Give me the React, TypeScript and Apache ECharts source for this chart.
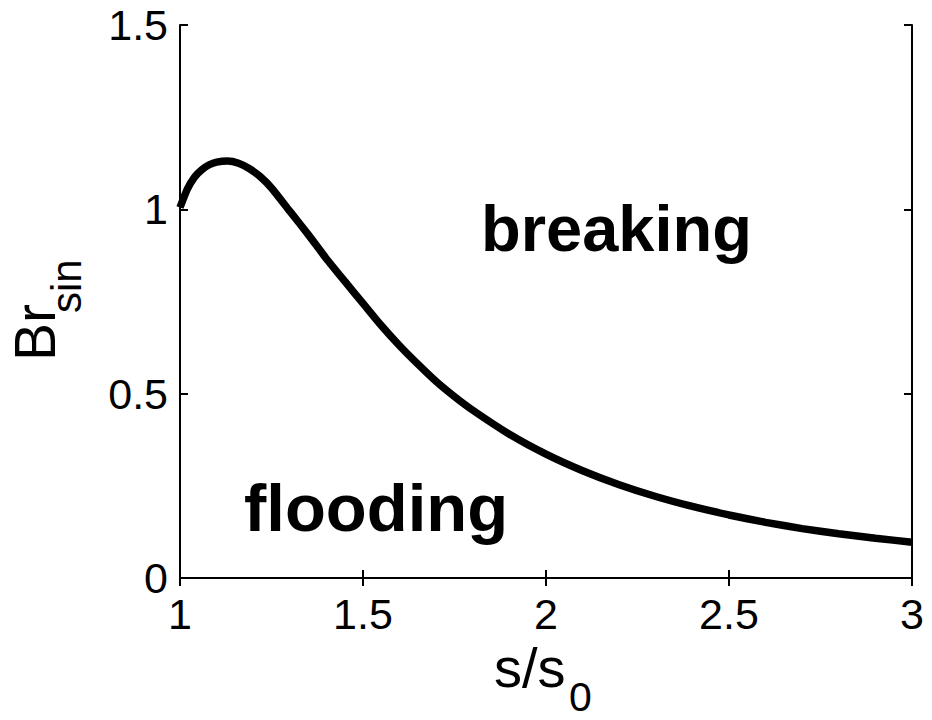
import React, { useEffect, useRef } from "react";
import * as echarts from "echarts";

const sRatio = [1.0, 1.02, 1.04, 1.06, 1.08, 1.1, 1.13, 1.16, 1.19, 1.22, 1.25, 1.3, 1.35, 1.4, 1.45, 1.5, 1.55, 1.6, 1.65, 1.7, 1.75, 1.8, 1.9, 2.0, 2.1, 2.2, 2.3, 2.4, 2.5, 2.6, 2.7, 2.8, 2.9, 3.0];
const brSin = [1.005, 1.055, 1.088, 1.108, 1.121, 1.128, 1.131, 1.125, 1.11, 1.088, 1.058, 0.995, 0.932, 0.866, 0.805, 0.745, 0.685, 0.63, 0.58, 0.533, 0.492, 0.455, 0.39, 0.336, 0.291, 0.253, 0.221, 0.194, 0.171, 0.151, 0.134, 0.12, 0.108, 0.097];

const xMin = 1, xMax = 3, xStep = 0.5;
const yMin = 0, yMax = 1.5, yStep = 0.5;

const xTitle = "s/s";
const xTitleSub = "0";
const yTitle = "Br";
const yTitleSub = "sin";
const regionAbove = "breaking";
const regionBelow = "flooding";

const FONT = "'Liberation Sans', Arial, sans-serif";

export default function App() {
  const ref = useRef<HTMLDivElement>(null);
  useEffect(() => {
    if (!ref.current) return;
    const chart = echarts.init(ref.current, undefined, { renderer: "svg" });
    const axisLine = { show: true, lineStyle: { color: "#000", width: 2 } };
    const tick = { show: true, inside: true, length: 8, lineStyle: { color: "#000", width: 2 } };
    const fmt = (v: number) => String(Math.round(v * 10) / 10);
    const txt = (text: string, size: number, weight = "normal") => ({
      text, font: `${weight} ${size}px ${FONT}`, fill: "#000", align: "left", verticalAlign: "middle",
    });
    chart.setOption({
      animation: false,
      backgroundColor: "#fff",
      grid: { left: 180, right: 20, top: 25, bottom: 142, containLabel: false, outerBoundsMode: "none" },
      xAxis: [
        {
          type: "value", min: xMin, max: xMax, interval: xStep, position: "bottom",
          axisLine, axisTick: tick, splitLine: { show: false },
          axisLabel: { color: "#000", fontSize: 43, fontFamily: FONT, margin: 14, formatter: fmt },
        },
        {
          type: "value", min: xMin, max: xMax, interval: xStep, position: "top",
          axisLine, axisTick: tick, axisLabel: { show: false }, splitLine: { show: false },
        },
      ],
      yAxis: [
        {
          type: "value", min: yMin, max: yMax, interval: yStep, position: "left",
          axisLine, axisTick: tick, splitLine: { show: false },
          axisLabel: { color: "#000", fontSize: 43, fontFamily: FONT, margin: 12, formatter: fmt },
        },
        {
          type: "value", min: yMin, max: yMax, interval: yStep, position: "right",
          axisLine, axisTick: tick, axisLabel: { show: false }, splitLine: { show: false },
        },
      ],
      graphic: [
        { type: "text", x: 481, y: 196, style: { ...txt(regionAbove, 65, "bold"), verticalAlign: "top" } },
        { type: "text", x: 244, y: 474, style: { ...txt(regionBelow, 67, "bold"), verticalAlign: "top" } },
        // x-axis title s/s0
        { type: "text", x: 494, y: 667, style: txt(xTitle, 56) },
        { type: "text", x: 569, y: 697, style: txt(xTitleSub, 41) },
        // y-axis title Br_sin (rotated)
        { type: "text", x: 35, y: 361, rotation: Math.PI / 2, style: txt(yTitle, 57) },
        { type: "text", x: 66, y: 313, rotation: Math.PI / 2, style: txt(yTitleSub, 42) },
      ],
      series: [
        {
          type: "line",
          data: sRatio.map((x, i) => [x, brSin[i]]),
          showSymbol: false,
          smooth: 0.2,
          lineStyle: { color: "#000", width: 7.5 },
          clip: true,
        },
      ],
    });
    return () => chart.dispose();
  }, []);
  return <div ref={ref} style={{ position: "fixed", left: 0, top: 0, width: 932, height: 720, background: "#fff" }} />;
}
